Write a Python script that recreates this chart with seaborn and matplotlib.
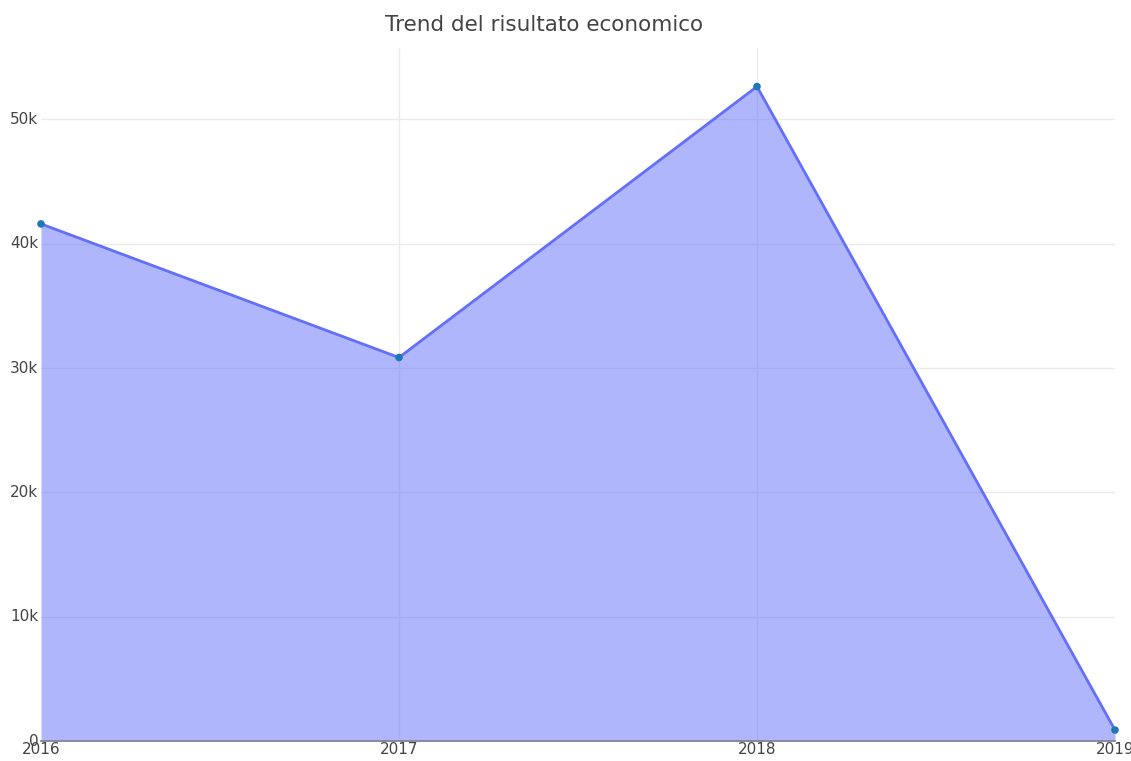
import matplotlib
matplotlib.use("Agg")
import matplotlib.pyplot as plt
import seaborn as sns
import pandas as pd
from matplotlib.ticker import FuncFormatter

years = [2016, 2017, 2018, 2019]
values = [41600, 30850, 52650, 880]
title = "Trend del risultato economico"

df = pd.DataFrame({"anno": years, "risultato": values})

sns.set_theme(style="white")
plt.rcParams['font.family'] = ['DejaVu Sans']

fig = plt.figure(figsize=(11.31, 7.61), dpi=100)
ax = fig.add_axes([41/1131, 20/761, (1115-41)/1131, (741-48)/761])

ax.fill_between(df["anno"], df["risultato"], 0, color="#636efa", alpha=0.5, linewidth=0, zorder=2)
sns.lineplot(data=df, x="anno", y="risultato", ax=ax, color="#636efa", linewidth=2, zorder=3)
sns.scatterplot(data=df, x="anno", y="risultato", ax=ax, color="#1f77b4", s=30, edgecolor="none", zorder=4, clip_on=False)

ax.set_xlim(2016, 2019)
ax.set_ylim(0, 55750)
ax.set_xticks(years)
ax.set_yticks([0, 10000, 20000, 30000, 40000, 50000])
ax.yaxis.set_major_formatter(FuncFormatter(lambda v, p: "0" if v == 0 else f"{int(v/1000)}k"))
ax.grid(True, axis="y", color="#ebebeb", linewidth=1, zorder=0)
for yr in years[1:-1]:
    ax.axvline(yr, color="#ebebeb", linewidth=1, zorder=0)
ax.set_axisbelow(True)
for s in ["top", "right", "left"]:
    ax.spines[s].set_visible(False)
ax.spines["bottom"].set_color("#7f7f8f")
ax.spines["bottom"].set_linewidth(1.2)
ax.spines["bottom"].set_zorder(5)
ax.tick_params(axis="both", length=0, labelsize=11, colors="#444444")
ax.tick_params(axis="x", pad=1)
ax.tick_params(axis="y", pad=2)
for lbl in ax.get_yticklabels():
    lbl.set_verticalalignment("center")
ax.get_yticklabels()[0].set_y(0)
ax.set_xlabel("")
ax.set_ylabel("")
fig.text(544/1131, 1 - 25/761, title, ha="center", va="center", fontsize=15.5, color="#444444")

fig.savefig("out.png", dpi=100)
